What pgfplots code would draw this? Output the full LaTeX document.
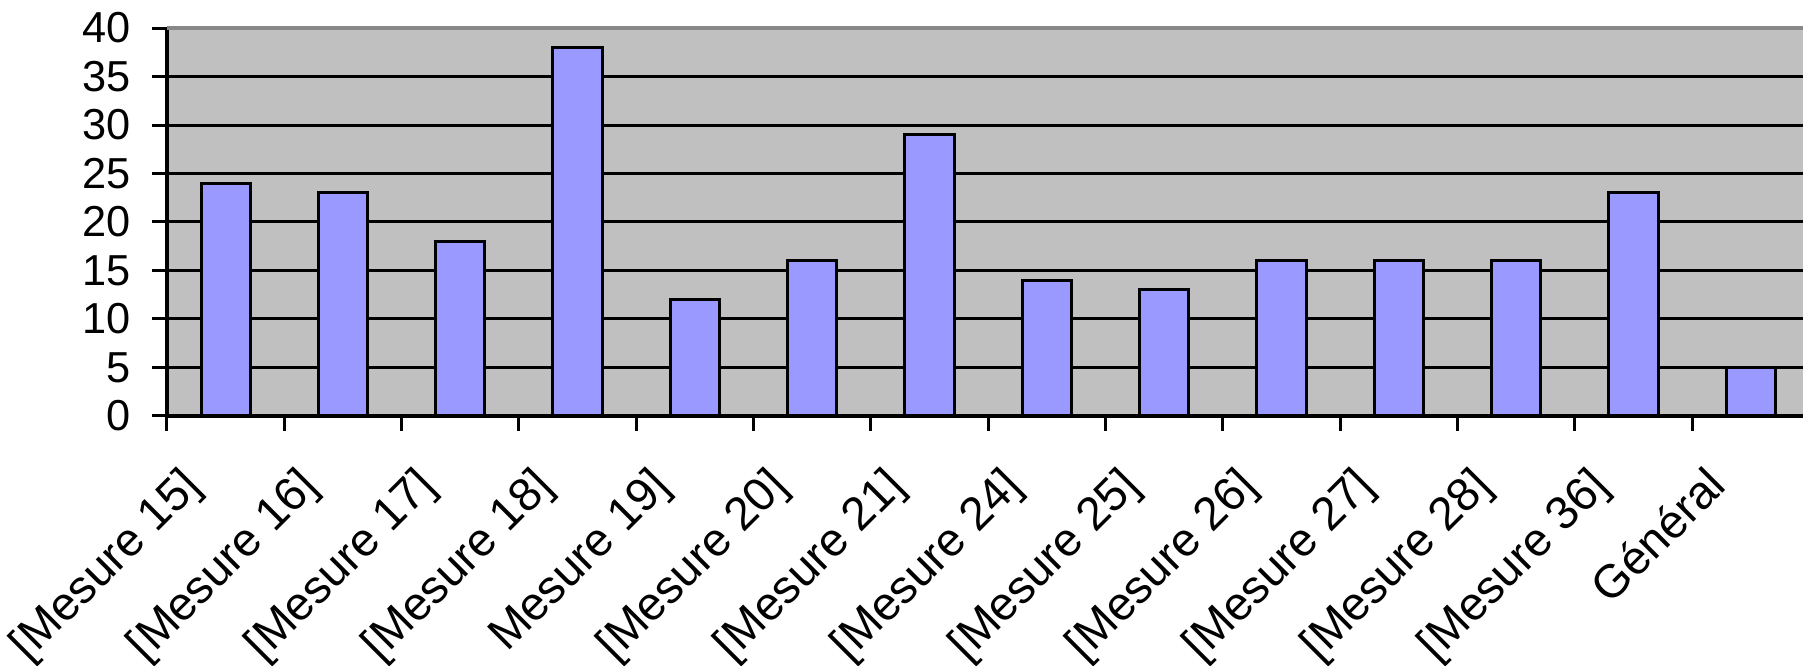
\documentclass[border=0pt]{standalone}
\usepackage{pgfplots}
\pgfplotsset{compat=1.18}
\usepackage{fontspec}
\setmainfont{Liberation Sans}
\definecolor{plotbg}{HTML}{C0C0C0}
\definecolor{barfill}{HTML}{9999FF}
\definecolor{topline}{HTML}{888888}
\begin{document}
\begin{tikzpicture}
\begin{axis}[
    scale only axis,
    width=492.7pt, height=116.4pt,
    ybar, bar width=0.42,
    xmin=-0.5, xmax=13.5,
    ymin=0, ymax=40,
    axis x line*=bottom, axis y line*=left,
    axis line style={line width=1pt, black},
    axis background/.style={fill=plotbg},
    ytick={0,5,...,35},
    extra y ticks={40},
    extra y tick style={major grid style={topline, line width=1.1pt}},
    ymajorgrids,
    major grid style={black, line width=0.9pt},
    tick align=outside,
    major tick length=4.5pt,
    tick style={black, line width=0.9pt},
    xtick={-0.5,0.5,...,13.5},
    x tick label as interval,
    xticklabels={{[Mesure 15]},{[Mesure 16]},{[Mesure 17]},{[Mesure 18]},{Mesure 19]},{[Mesure 20]},{[Mesure 21]},{[Mesure 24]},{[Mesure 25]},{[Mesure 26]},{[Mesure 27]},{[Mesure 28]},{[Mesure 36]},{Général}},
    xticklabel style={xshift=-14pt, yshift=-9.6pt, rotate=45, anchor=north east, inner sep=0pt, font=\fontsize{14}{16}\selectfont},
    yticklabel style={xshift=-3pt, font=\fontsize{13}{15}\selectfont},
    /pgf/number format/assume math mode=true,
]
\addplot[fill=barfill, draw=black, line width=0.9pt] coordinates {
    (0,24) (1,23) (2,18) (3,38) (4,12) (5,16) (6,29)
    (7,14) (8,13) (9,16) (10,16) (11,16) (12,23) (13,5)
};
\end{axis}
\pgfresetboundingbox
\path (-50.1pt,-75pt) rectangle (490.8pt,124.8pt);
\end{tikzpicture}
\end{document}
